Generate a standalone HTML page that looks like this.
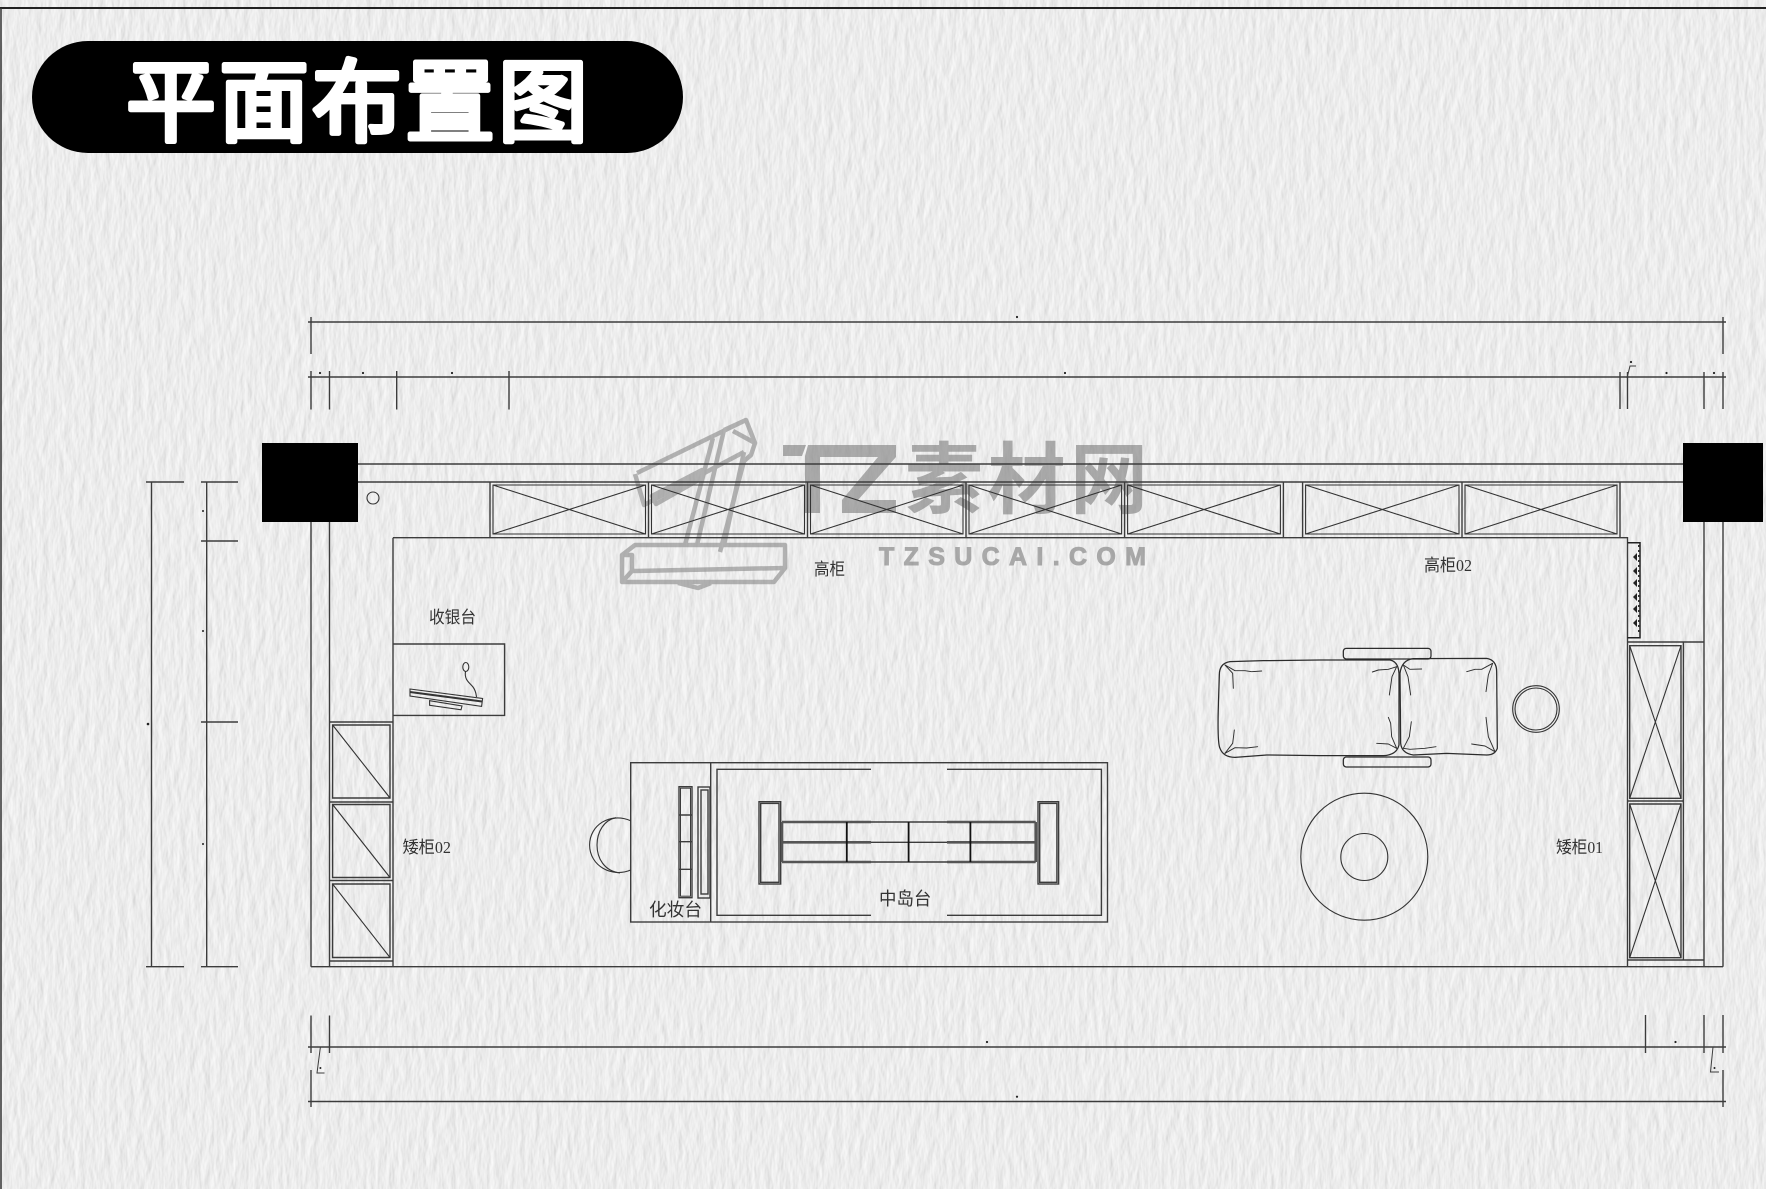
<!DOCTYPE html>
<html lang="zh">
<head>
<meta charset="utf-8">
<title>平面布置图</title>
<style>
html,body{margin:0;padding:0;width:1766px;height:1189px;overflow:hidden;background:#ececec}
svg{display:block}
text{font-family:"Liberation Sans","Noto Sans CJK SC",sans-serif}
.l{fill:none;stroke:#3c3c3c;stroke-width:1.4}
.t{fill:none;stroke:#333;stroke-width:1.1}
.d{fill:#222}
.lab{fill:#333;font-size:17px;font-family:"Liberation Serif","Noto Sans CJK SC",serif;font-weight:400}
</style>
</head>
<body>
<svg width="1766" height="1189" viewBox="0 0 1766 1189" xmlns="http://www.w3.org/2000/svg">
<defs>
<filter id="paper" x="0" y="0" width="100%" height="100%" color-interpolation-filters="sRGB">
<feTurbulence type="fractalNoise" baseFrequency="0.13 0.045" numOctaves="3" seed="7" result="n"/>
<feDiffuseLighting in="n" surfaceScale="0.42" diffuseConstant="1" lighting-color="#ffffff">
<feDistantLight azimuth="10" elevation="68"/>
</feDiffuseLighting>
</filter>
</defs>
<rect width="1766" height="1189" fill="#ececec"/>
<rect width="1766" height="1189" filter="url(#paper)"/>

<!-- page border -->
<path d="M0,8H1766" fill="none" stroke="#222" stroke-width="2"/>
<path d="M1,8V1189" fill="none" stroke="#333" stroke-width="1.5"/>

<!-- title -->
<rect x="32" y="41" width="651" height="112" rx="56" ry="56" fill="#000"/>
<text x="126" y="134" font-size="90" font-weight="400" textLength="462" lengthAdjust="spacing" fill="#fff" stroke="#fff" stroke-width="5" stroke-linejoin="round" style='font-family:"Noto Sans CJK SC",sans-serif'>平面布置图</text>

<!-- watermark -->
<g opacity=".62">
<g fill="none" stroke="#8a8a8a" stroke-width="4.5" stroke-linejoin="round">
<path d="M637,473 L746,420 L755,443 L751,455 L744,461 L720,552"/>
<path d="M635,474 L644,505 L744,452"/>
<path d="M652,496 L702,470 L702,478 L656,504Z"/>
<path d="M713,438 L685,545"/>
<path d="M724,430 L697,545"/>
<path d="M744,452 L724,545"/>
<path d="M724,430 L746,420 M733,431 L755,443"/>
<path d="M622,555 L635,545 L785,545 L785,568 L774,582 L622,582Z"/>
<path d="M622,555 L632,555 L632,571 L785,568 M632,571 L622,582"/>
<path d="M678,583 L698,588 L711,583"/>
</g>
<path d="M783,445 H806 L802,456 H783Z M808,445 H896 V457 L858,500 H896 V513 H842 V500 L878,457 H820 V513 H805 V456Z" fill="#7e7e7e"/>
<text x="905" y="507" font-size="78" font-weight="700" fill="#7e7e7e" textLength="243" lengthAdjust="spacing" style='font-family:"Noto Sans CJK SC",sans-serif'>素材网</text>
<text x="879" y="565" font-size="25" font-weight="700" fill="#7e7e7e" stroke="#7e7e7e" stroke-width="1" textLength="267" lengthAdjust="spacing">TZSUCAI.COM</text>
</g>

<!-- top dimensions -->
<g class="l">
<path d="M308,322H1726M311,317V354M1723,317V354"/>
<path d="M308,377H1726M311,371V409.500M329.500,371V409.500M396.700,371V409.500M509,371V409.500"/>
<path d="M1620,372V409M1627.500,372V409M1704,372V409M1723,372V409"/>
<path d="M1627,378 L1630,366 H1636" stroke-width="1"/>
</g>
<g class="d">
<circle cx="1017" cy="317" r="1.100"/><circle cx="320" cy="373" r="1.100"/><circle cx="363" cy="373" r="1.100"/><circle cx="452" cy="373" r="1.100"/><circle cx="1065" cy="373" r="1.100"/><circle cx="1666.500" cy="373" r="1.100"/><circle cx="1714" cy="373" r="1.100"/><circle cx="1631" cy="362" r="1.100"/>
</g>

<!-- left dimensions -->
<g class="l">
<path d="M151.500,482V966.700M146,482H184M146,966.700H184"/>
<path d="M206.700,482V966.700M201,482H238M201,541H238M201,722H238M201,966.700H238"/>
</g>
<g class="d">
<circle cx="203" cy="511" r="1"/><circle cx="203" cy="631" r="1"/><circle cx="203" cy="844" r="1"/><circle cx="148" cy="724" r="1.300"/>
</g>

<!-- bottom dimensions -->
<g class="l">
<path d="M308,1047H1726M311,1015.500V1053M329.500,1015.500V1053M1645.500,1015V1053M1704,1015V1053M1723,1015V1053"/>
<path d="M308,1101.500H1726M311,1070V1107M1723,1070V1107"/>
<path d="M320.400,1047 L317,1073 H324.500" stroke-width="1"/>
<path d="M1713,1047 L1710.500,1072 H1719" stroke-width="1"/>
</g>
<g class="d">
<circle cx="987" cy="1042" r="1.100"/><circle cx="1675.500" cy="1042" r="1.100"/><circle cx="1017" cy="1096.700" r="1.100"/><circle cx="320.400" cy="1068" r="1"/><circle cx="1714.500" cy="1068" r="1"/>
</g>

<!-- walls -->
<g class="l">
<path d="M358,464H1683M358,482H1683"/>
<path d="M311,522V966.700M329.500,522V966.700M393,537.700V966.700"/>
<path d="M1704,522V966.700M1723,522V966.700"/>
<path d="M311,966.700H1723"/>
<path d="M393,537.700H1627.500V966.700"/>
<path d="M1627.500,642H1704M1627.500,960H1704"/>
<path d="M329.500,722H393M329.500,961H393"/>
</g>
<rect x="262" y="443" width="96" height="79" fill="#000"/>
<rect x="1683" y="443" width="80" height="79" fill="#000"/>
<ellipse cx="373" cy="498" rx="6" ry="6" class="t"/>

<!-- top cabinets -->
<g class="l">
<path d="M490,482V537.700M648.500,482V537.700M807.500,482V537.700M966,482V537.700M1124.600,482V537.700M1283.400,482V537.700M1302.600,482V537.700M1462,482V537.700M1620,482V537.700"/>
</g>
<g class="t">
<path d="M493,485H645.500V534H493ZM493,485L645.500,534M645.500,485L493,534"/>
<path d="M651.500,485H804.500V534H651.500ZM651.500,485L804.500,534M804.500,485L651.500,534"/>
<path d="M810.500,485H963V534H810.500ZM810.500,485L963,534M963,485L810.500,534"/>
<path d="M969,485H1121.600V534H969ZM969,485L1121.600,534M1121.600,485L969,534"/>
<path d="M1127.600,485H1280.400V534H1127.600ZM1127.600,485L1280.400,534M1280.400,485L1127.600,534"/>
<path d="M1305.600,485H1459V534H1305.600ZM1305.600,485L1459,534M1459,485L1305.600,534"/>
<path d="M1465,485H1617V534H1465ZM1465,485L1617,534M1617,485L1465,534"/>
</g>

<!-- curtain -->
<path d="M1627.500,542.700H1640V637.700H1627.500" fill="none" stroke="#222" stroke-width="1.500"/>
<g fill="#222">
<path d="M1633,557l4,-4v8zM1633,571l4,-4v8zM1633,583l4,-4v8zM1633,597l4,-4v8zM1633,609l4,-4v8zM1633,623l4,-4v8z"/>
</g>
<path d="M1639,545V635" stroke="#333" stroke-width="2" stroke-dasharray="2 3"/>

<!-- cashier -->
<path class="l" d="M393,644H504.600V715.400H393"/>
<g class="t">
<path d="M410,689 L482.600,698.500 L481.600,706.400 L410,696Z"/>
<path d="M410,692 L482,701.500" stroke-width="2"/>
<path d="M429.600,700.700 L462,706 L461,709.800 L429.600,705.300Z"/>
<ellipse cx="465.800" cy="667" rx="3" ry="4.500"/>
<path d="M465.500,671.500 C464,680 470,683 473,687 C476,691 476,694 476.500,697"/>
</g>

<!-- low cabinet 02 -->
<g class="l">
<path d="M329.500,802H393M329.500,880.500H393"/>
<path d="M332.600,725H390V798H332.600ZM332.600,804.500H390V877.500H332.600ZM332.600,884H390V957.500H332.600Z"/>
</g>
<g class="t">
<path d="M332.600,725L390,798M332.600,804.500L390,877.500M332.600,884L390,957.500"/>
</g>

<!-- low cabinet 01 -->
<g class="l">
<path d="M1683.400,642V960M1627.500,801H1683.400"/>
<path d="M1629.700,645.700H1681V798.300H1629.700ZM1629.700,804H1681V957.700H1629.700Z"/>
</g>
<g class="t">
<path d="M1629.700,645.700L1681,798.300M1681,645.700L1629.700,798.300M1629.700,804L1681,957.700M1681,804L1629.700,957.700"/>
</g>

<!-- island -->
<g class="l">
<rect x="630.700" y="762.700" width="476.800" height="159.300"/>
<path d="M710.700,762.700V922"/>
<path d="M871,769.300H717V915.300H871M947,769.300H1101.400V915.300H947"/>
<rect x="679" y="786.700" width="13" height="111"/>
<rect x="680.500" y="788.200" width="10" height="108" stroke-width="1"/>
<path d="M679,815H692M679,841.700H692M679,869.300H692"/>
<rect x="698" y="787" width="12" height="111"/>
<rect x="701" y="790" width="7" height="104"/>
<rect x="759" y="801.700" width="21.700" height="82.300"/>
<rect x="760.700" y="803.400" width="18.300" height="78.900"/>
<rect x="1038" y="801.700" width="20.600" height="82.300"/>
<rect x="1039.700" y="803.400" width="17.200" height="78.900"/>
<path d="M871,822H947M871,842.300H947M871,862H947"/>
</g>
<g fill="none" stroke="#555" stroke-width="2.600">
<path d="M782,822H871M782,842.300H871M782,862H871M947,822H1035.700M947,842.300H1035.700M947,862H1035.700M782,822V862M1035.700,822V862"/>
</g>
<path d="M846.800,822V862M908.600,822V862M970.400,822V862" stroke="#111" stroke-width="1.800" fill="none"/>
<g class="t">
<path d="M630.700,820.700 C610,812 589.600,825 589.600,845 C589.600,866 612,878 630.700,870"/>
<path d="M616,817.700 C604,820 597,832 597,845 C597,858 604,871 620,873"/>
</g>

<!-- bed -->
<g transform="translate(1180,620) scale(.33333)" fill="none" stroke="#2c2c2c" stroke-width="3.800" stroke-linejoin="round" stroke-linecap="round">
<rect x="490" y="85" width="263" height="32" rx="9"/>
<rect x="490" y="411" width="263" height="30" rx="9"/>
<path d="M150,125 L250,122 L420,120 L560,120 L630,120 Q655,125 657,160 L657,375 Q650,405 610,407 L420,407 L260,405 L165,412 Q130,412 120,385 Q112,370 115,260 L118,165 Q118,130 150,125Z"/>
<path d="M700,116 L920,115 Q950,120 950,155 L952,385 Q945,405 920,405 L800,400 L700,405 Q665,400 662,370 L660,160 Q665,120 700,116Z"/>
<g stroke-width="2.800">
<path d="M135,135 L165,152 L195,152 L215,155 L245,153"/>
<path d="M135,135 L158,160 L160,205"/>
<path d="M135,400 L165,383 L200,384 L233,380"/>
<path d="M135,400 L158,370 L163,330"/>
<path d="M650,140 L625,148 L595,150 L577,156"/>
<path d="M650,140 L636,170 L628,225"/>
<path d="M650,385 L625,372 L590,370"/>
<path d="M650,385 L635,350 L632,310 L625,292"/>
<path d="M670,135 L690,148 L725,147"/>
<path d="M670,135 L684,170 L692,225"/>
<path d="M670,385 L690,388 L735,385 L768,380"/>
<path d="M670,385 L688,350 L694,305"/>
<path d="M938,130 L905,148 L885,148 L860,155"/>
<path d="M938,130 L925,165 L918,215"/>
<path d="M945,395 L915,378 L875,372"/>
<path d="M945,395 L925,350 L918,292"/>
</g>
</g>
<circle cx="1536" cy="709" r="23.300" class="t"/>
<circle cx="1536" cy="709" r="21" class="t"/>

<!-- rug -->
<circle cx="1364.300" cy="856.700" r="63.500" class="t"/>
<circle cx="1364.300" cy="857" r="23.500" class="t"/>

<!-- labels -->
<text class="lab" x="814" y="575" textLength="31" lengthAdjust="spacingAndGlyphs">高柜</text>
<text class="lab" x="1424" y="571" textLength="48" lengthAdjust="spacingAndGlyphs">高柜02</text>
<text class="lab" x="429" y="623" textLength="47" lengthAdjust="spacingAndGlyphs">收银台</text>
<text class="lab" x="402.500" y="853" textLength="48.500" lengthAdjust="spacingAndGlyphs">矮柜02</text>
<text class="lab" x="1556" y="853" textLength="47" lengthAdjust="spacingAndGlyphs">矮柜01</text>
<text class="lab" style="font-size:18px" x="649" y="916" textLength="53" lengthAdjust="spacingAndGlyphs">化妆台</text>
<text class="lab" style="font-size:18px" x="879" y="905" textLength="52.400" lengthAdjust="spacingAndGlyphs">中岛台</text>
</svg>
</body>
</html>
